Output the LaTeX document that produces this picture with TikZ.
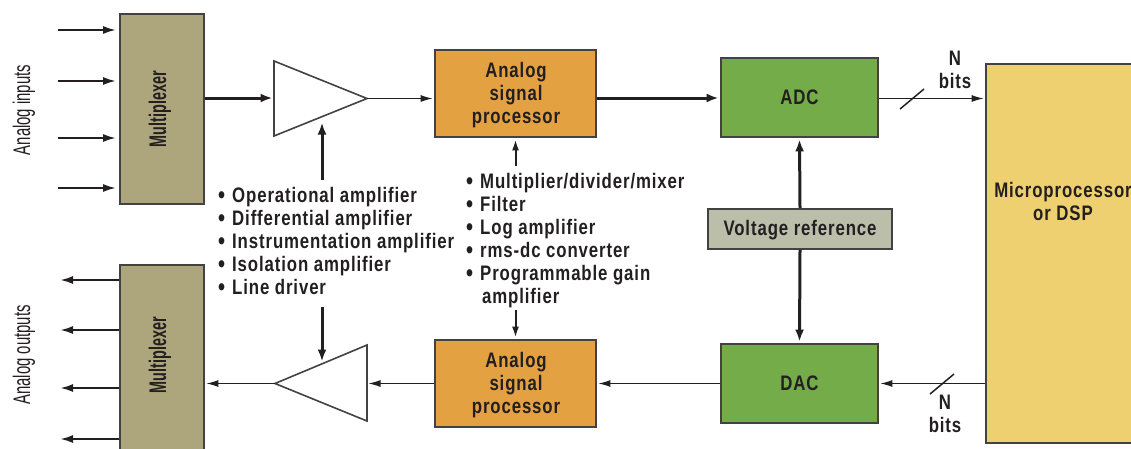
\documentclass[tikz,border=0pt]{standalone}
\usepackage{fontspec}
\setmainfont{Liberation Sans}[FakeStretch=0.8,BoldFont={Liberation Sans Bold},BoldFeatures={FakeStretch=0.8,LetterSpace=4.2}]
\newfontfamily\narrowfont{Liberation Sans}[FakeStretch=0.62]
\newfontfamily\narrowbold{Liberation Sans Bold}[FakeStretch=0.6]
\usetikzlibrary{arrows.meta,calc}
\definecolor{ink}{HTML}{231F20}
\definecolor{muxc}{HTML}{ADA67C}
\definecolor{aspc}{HTML}{E3A142}
\definecolor{adcc}{HTML}{75AC4A}
\definecolor{refc}{HTML}{BBBEA9}
\definecolor{upc}{HTML}{EED070}
\newcommand{\bl}{\makebox[14pt][l]{\fontsize{25}{23}\selectfont\raisebox{-1pt}{•}}}
\tikzset{
 x=1pt,y=-1pt,
 blockbox/.style={draw=ink!85,line width=1.8pt,inner sep=0pt,text=ink,font=\bfseries\fontsize{21}{23.5}\selectfont,align=center},
 muxbox/.style={blockbox,fill=muxc,minimum width=84pt},
 aspbox/.style={blockbox,fill=aspc,minimum width=161pt,minimum height=87pt},
 adcbox/.style={blockbox,fill=adcc,minimum width=157pt,minimum height=79pt},
 refbox/.style={blockbox,fill=refc,minimum width=184pt,minimum height=40pt},
 upbox/.style={blockbox,fill=upc,minimum width=156pt,minimum height=379pt},
 ampbox/.style={draw=ink!85,line width=1.6pt,fill=white,line join=miter},
 thin line/.style={draw=ink,line width=1.1pt,shorten >=1.5pt,-{Latex[length=12pt,width=7pt]}},
 thick line/.style={draw=ink,line width=3pt,shorten >=1.5pt,-{Latex[length=12pt,width=9pt]}},
 mid line/.style={draw=ink,line width=2.2pt,shorten >=3pt,-{Latex[length=13pt,width=8pt]}},
 ctl line/.style={draw=ink,line width=2pt,shorten >=1.5pt,-{Latex[length=11pt,width=7pt]}},
 slashline/.style={draw=ink,line width=1.5pt},
 txt/.style={text=ink,inner sep=0pt,font=\bfseries\fontsize{21}{23}\selectfont,align=left},
 sidetxt/.style={text=ink,inner sep=0pt,font=\narrowfont\fontsize{24}{24}\selectfont,rotate=90},
 muxtxt/.style={text=ink,inner sep=0pt,font=\narrowbold\fontsize{24}{24}\selectfont,rotate=90},
}
\begin{document}
\begin{tikzpicture}
\useasboundingbox (0,0) rectangle (1131,448);
% blocks
\node[muxbox,minimum height=190pt] (mux1) at (162,109) {};
\node[muxbox,minimum height=200pt] (mux2) at (162,365) {};
\node[aspbox] (asp1) at (515.5,93.5) {};
\node[aspbox] (asp2) at (515.5,383.5) {};
\node[adcbox] (adc) at (799.5,97.5) {ADC};
\node[adcbox] (dac) at (799.5,383.5) {DAC};
\node[refbox] (ref) at (800,229) {};
\node[upbox] (up) at (1064,253.5) {};
% text labels
\node[txt,align=center] (reft) at (800,230) {Voltage reference};
\node[txt,align=center] (asp1t) at (516,95) {Analog\\signal\\processor};
\node[txt,align=center] (asp2t) at (516,385) {Analog\\signal\\processor};
\node[muxtxt] (m1t) at (160,109) {Multiplexer};
\node[muxtxt] (m2t) at (160,355) {Multiplexer};
\node[txt,align=center] (uptxt) at (1063,201) {Microprocessor\\or DSP};
\node[sidetxt] (ai) at (24,110) {Analog inputs};
\node[sidetxt] (ao) at (24,355) {Analog outputs};
\node[txt,anchor=north west] (list1) at (218,187) {\bl Operational amplifier\\\bl Differential amplifier\\\bl Instrumentation amplifier\\\bl Isolation amplifier\\\bl Line driver};
\node[txt,anchor=north west] (list2) at (466,173) {\bl Multiplier/divider/mixer\\\bl Filter\\\bl Log amplifier\\\bl rms-dc converter\\\bl Programmable gain\\\hspace{16pt}amplifier};
\node[txt,align=center] (nb1) at (955,70) {N\\bits};
\node[txt,align=center] (nb2) at (945,414) {N\\bits};
% amplifiers
\draw[ampbox] (274,61) coordinate (a1t) -- (367,98.5) coordinate (a1o) -- (274,136) coordinate (a1b) -- cycle;
\draw[ampbox] (367,345) coordinate (a2t) -- (275,383.5) coordinate (a2o) -- (367,421) coordinate (a2b) -- cycle;
\coordinate (a1i) at (274,98);
\coordinate (a2i) at (367,383.5);
% free ends
\foreach \n/\y in {1/30,2/81,3/138,4/188}{
 \coordinate (in\n) at (58,\y);
 \draw[mid line] (in\n) -- (mux1.west |- in\n);
}
\foreach \n/\y in {1/280,2/330,3/388,4/439}{
 \coordinate (out\n) at (60,\y);
 \draw[mid line,shorten >=0pt] (mux2.west |- out\n) -- (out\n);
}
% main connectors
\draw[thick line] (mux1.east |- a1i) -- (a1i);
\draw[thin line] (a1o) -- (asp1.west |- a1o);
\draw[thick line] (asp1.east |- a1i) -- (adc.west |- a1i);
\draw[thin line] (adc.east |- a1o) -- (up.west |- a1o);
\draw[thin line] (asp2.west) -- (a2i);
\draw[thin line] (a2o) -- (mux2.east |- a2o);
\draw[thin line] (dac.west) -- (asp2.east);
\draw[thin line] (up.west |- dac.east) -- (dac.east);
\draw[thick line] (ref.north) -- (adc.south);
\draw[thick line] (ref.south) -- (dac.north);
% list connectors
\coordinate (l1a) at (322,180);
\coordinate (l1b) at (322,121);
\coordinate (l2a) at (322,307);
\coordinate (l2b) at (322,363);
\coordinate (l3a) at (515.5,166);
\coordinate (l3b) at (515.5,310);
\draw[thick line] (l1a) -- (l1b);
\draw[thick line] (l2a) -- (l2b);
\draw[ctl line] (l3a) -- (asp1.south);
\draw[ctl line] (l3b) -- (asp2.north);
% slashes
\coordinate (s1a) at (900,109);
\coordinate (s1b) at (924,89);
\coordinate (s2a) at (930,394);
\coordinate (s2b) at (954,374);
\draw[slashline] (s1a) -- (s1b);
\draw[slashline] (s2a) -- (s2b);
\end{tikzpicture}
\end{document}
